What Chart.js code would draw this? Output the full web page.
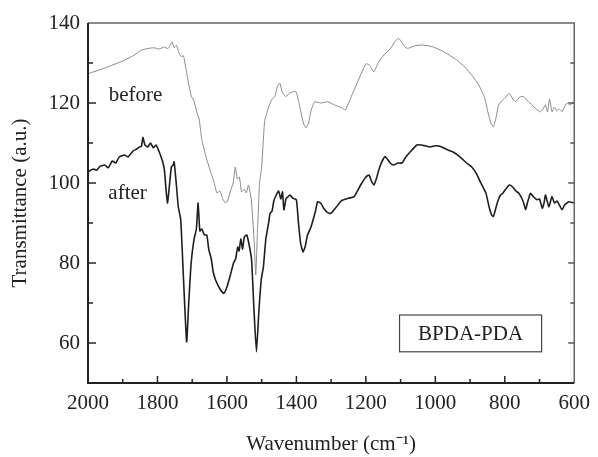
<!DOCTYPE html>
<html lang="en">
<head>
    <meta charset="UTF-8">
    <title>FTIR BPDA-PDA</title>
    <script src="https://cdn.jsdelivr.net/npm/chart.js"></script>
    <style>
        html, body { margin: 0; padding: 0; background: #fff; }
        #wrap { width: 598px; height: 457px; }
    </style>
</head>
<body>
    <div id="wrap">
        <canvas id="graficoFTIR" width="598" height="457"></canvas>
    </div>

    <script>
        // wavenumbers (cm-1) and transmittance
        const beforeWn = [2000,1950,1900,1870,1846,1830,1810,1795,1780,1770,1762,1758,1752,1745,1738,1732,1725,1715,1703,1695,1686,1680,1672,1660,1646,1638,1629,1620,1612,1604,1598,1590,1582,1576,1570,1564,1558,1550,1544,1538,1530,1522,1517,1512,1506,1500,1495,1491,1480,1470,1462,1455,1448,1440,1430,1420,1410,1401,1390,1380,1373,1365,1358,1348,1330,1310,1290,1270,1259,1240,1220,1200,1190,1177,1165,1148,1130,1115,1106,1095,1085,1077,1060,1040,1020,1006,980,960,939,915,892,875,859,848,840,833,826,818,806,797,787,777,768,757,745,735,721,710,697,690,683,677,671,664,657,650,643,635,628,621,612,600];
        const beforeT = [127.3,128.8,130.5,131.8,133.2,133.6,133.8,133.5,134.0,133.6,134.6,135.3,133.8,134.4,132.5,131.6,131.8,127,121.8,120.5,117.5,116,110.7,106.5,102.5,100.5,97.5,98,96,95,95.5,98,100,104,101,101.5,97.8,98.5,97.5,99.5,96,86,77,88,100,104,111,115.7,119,121,121.6,124,125,122.5,121.6,122.5,122.8,122.8,119,115,113.8,115,118,120.3,120,120.3,119.5,118.8,118.3,122,126,129.8,129.5,127.8,130,132,133.5,135.5,136.2,135,133.8,133.7,134.3,134.5,134.3,134,133,132,130.8,129,126.6,124.5,121.6,117.5,115,114,116,119.5,120.8,121.5,122.4,121,120.3,121.5,121.6,120.5,119.5,118.5,117.8,118.5,119.5,117.8,121,117.8,119,118,118.5,117.8,119,120,119.5,120.3];

        const afterWn = [2000,1985,1975,1965,1952,1942,1930,1920,1910,1895,1885,1870,1860,1852,1846,1842,1836,1828,1820,1812,1804,1796,1790,1784,1780,1775,1771,1766,1760,1755,1752,1746,1740,1733,1725,1716,1710,1703,1695,1688,1683,1678,1672,1665,1658,1652,1645,1640,1633,1620,1609,1600,1590,1581,1575,1569,1565,1560,1555,1550,1543,1536,1529,1522,1515,1508,1501,1495,1488,1480,1476,1470,1465,1458,1451,1445,1440,1436,1430,1425,1419,1410,1400,1394,1388,1381,1375,1368,1358,1345,1339,1330,1320,1310,1301,1285,1270,1250,1234,1215,1200,1191,1184,1177,1170,1160,1150,1144,1130,1120,1108,1096,1085,1070,1053,1040,1030,1015,1000,987,970,950,930,910,895,882,870,860,854,845,838,833,828,820,812,806,797,787,777,768,759,750,745,740,735,726,717,707,700,692,687,683,678,673,668,664,657,650,643,635,628,621,616,609,600];
        const afterT = [102.8,103.5,103.2,104.2,104.5,103.8,105.5,105,106.5,107,106.5,108,108.5,109,109.2,111.4,109.5,109,110,108.8,109.5,108,106.6,105,103.2,98,95,99,104,104.5,105.3,100,94,90.8,76,60.3,70,80,85.8,88.5,95,88,88.5,87,87,83.3,81,78,75.8,73.5,72.4,74,77,80,81,84,83,86,83.5,86.5,87,84.5,80.8,68,57.8,68,76,79,86,90,92.4,93,95.5,97,98,96,97.8,93.3,96,96.5,97,96.2,95.8,90,85,82.8,84,87,89,93,95.3,95,93.5,92.6,92.4,94,95.6,96.2,96.6,99.5,101.5,102,100.5,99.5,101,104,106,106.6,105,104.5,105,105,106.5,108,109.5,109.5,109.3,109,109.3,109.2,108.5,107.8,106.6,105,104,102.4,100.2,98.5,97.4,94,92,91.6,93,95.5,97,97.4,98.5,99.5,99,98,97.4,96,94.8,93.3,95,97.4,96.5,95.8,96,93.7,95,97,95.5,94,95.5,96.6,95,95.5,94.5,93.3,94.5,95,95.3,95.2,95];

        const yTickValues = [60, 80, 100, 120, 140];
        const xTickValues = [2000, 1800, 1600, 1400, 1200, 1000, 800, 600];

        const serif = '"Liberation Serif", "Times New Roman", serif';

        const toPoints = (wn, t) => wn.map((w, i) => ({ x: w, y: t[i] }));

        // frame, inward ticks and the text labels inside the plot
        const marcoPlugin = {
            id: 'marco',
            afterDatasetsDraw(chart) {
                const ctx = chart.ctx;
                const a = chart.chartArea;
                const xs = chart.scales.x;
                const ys = chart.scales.y;
                ctx.save();

                // top + right
                ctx.strokeStyle = '#666';
                ctx.lineWidth = 1.5;
                ctx.beginPath();
                ctx.moveTo(a.left, a.top);
                ctx.lineTo(a.right, a.top);
                ctx.lineTo(a.right, a.bottom);
                ctx.stroke();

                // left + bottom
                ctx.strokeStyle = '#222';
                ctx.lineWidth = 2;
                ctx.beginPath();
                ctx.moveTo(a.left, a.top);
                ctx.lineTo(a.left, a.bottom);
                ctx.lineTo(a.right, a.bottom);
                ctx.stroke();

                // y ticks, every 10
                ctx.lineWidth = 1.5;
                for (let v = 60; v <= 130; v += 10) {
                    const py = ys.getPixelForValue(v);
                    const major = v % 20 === 0;
                    ctx.strokeStyle = '#222';
                    ctx.beginPath();
                    ctx.moveTo(a.left, py);
                    ctx.lineTo(a.left + (major ? 8 : 5), py);
                    ctx.stroke();
                    ctx.strokeStyle = '#555';
                    ctx.beginPath();
                    ctx.moveTo(a.right, py);
                    ctx.lineTo(a.right - (major ? 6 : 4), py);
                    ctx.stroke();
                }
                // x ticks, every 100
                ctx.strokeStyle = '#222';
                for (let v = 1900; v >= 700; v -= 100) {
                    const px = xs.getPixelForValue(v);
                    const major = v % 200 === 0;
                    ctx.beginPath();
                    ctx.moveTo(px, a.bottom);
                    ctx.lineTo(px, a.bottom - (major ? 7 : 4));
                    ctx.stroke();
                }

                // labels
                ctx.fillStyle = '#222';
                ctx.font = '21px ' + serif;
                ctx.textAlign = 'center';
                ctx.textBaseline = 'middle';
                ctx.fillText('before', xs.getPixelForValue(1863), ys.getPixelForValue(122));
                ctx.fillText('after', xs.getPixelForValue(1886), ys.getPixelForValue(97.5));

                // sample box
                const bx1 = xs.getPixelForValue(1103);
                const bx2 = xs.getPixelForValue(694);
                const by1 = ys.getPixelForValue(67);
                const by2 = ys.getPixelForValue(57.8);
                ctx.strokeStyle = '#444';
                ctx.lineWidth = 1.2;
                ctx.strokeRect(bx1, by1, bx2 - bx1, by2 - by1);
                ctx.fillText('BPDA-PDA', (bx1 + bx2) / 2, (by1 + by2) / 2 + 1);
                ctx.restore();
            }
        };

        const ctx = document.getElementById('graficoFTIR').getContext('2d');
        new Chart(ctx, {
            type: 'line',
            data: {
                datasets: [
                    {
                        label: 'before',
                        data: toPoints(beforeWn, beforeT),
                        borderColor: '#8a8a8a',
                        borderWidth: 1,
                        pointRadius: 0,
                        tension: 0.15
                    },
                    {
                        label: 'after',
                        data: toPoints(afterWn, afterT),
                        borderColor: '#1e1e1e',
                        borderWidth: 1.6,
                        pointRadius: 0,
                        tension: 0.15
                    }
                ]
            },
            options: {
                responsive: false,
                animation: false,
                layout: { padding: { top: 23, right: 19, left: 0, bottom: 0 } },
                plugins: {
                    legend: { display: false },
                    tooltip: { enabled: false }
                },
                scales: {
                    x: {
                        type: 'linear',
                        min: 600,
                        max: 2000,
                        reverse: true,
                        afterFit: s => { s.height = 74; },
                        afterBuildTicks: s => { s.ticks = xTickValues.map(v => ({ value: v })); },
                        grid: { display: false, drawTicks: false },
                        border: { display: false },
                        ticks: {
                            color: '#222',
                            padding: 8,
                            maxRotation: 0,
                            font: { family: serif, size: 21 },
                            callback: v => String(v)
                        },
                        title: {
                            display: true,
                            text: 'Wavenumber (cm\u207B\u00B9)',
                            color: '#222',
                            padding: { top: 6, bottom: 0 },
                            font: { family: serif, size: 21 }
                        }
                    },
                    y: {
                        min: 50,
                        max: 140,
                        afterFit: s => { s.width = 88; },
                        afterBuildTicks: s => { s.ticks = yTickValues.map(v => ({ value: v })); },
                        grid: { display: false, drawTicks: false },
                        border: { display: false },
                        ticks: {
                            color: '#222',
                            padding: 8,
                            font: { family: serif, size: 21 },
                            callback: v => String(v)
                        },
                        title: {
                            display: true,
                            text: 'Transmittance (a.u.)',
                            color: '#222',
                            padding: { top: 8, bottom: 0 },
                            font: { family: serif, size: 21 }
                        }
                    }
                }
            },
            plugins: [marcoPlugin]
        });
    </script>
</body>
</html>
